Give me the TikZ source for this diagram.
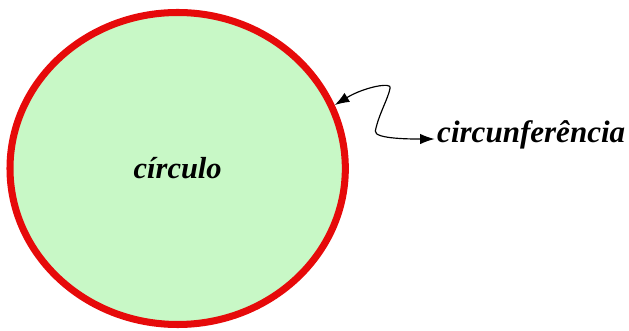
\documentclass[tikz,border=0pt]{standalone}
\usepackage{fontspec}
\setmainfont{Liberation Serif}
\usetikzlibrary{arrows.meta, shapes.geometric}
\definecolor{discgreen}{RGB}{200,248,198}
\definecolor{rimred}{RGB}{230,10,10}

\begin{document}
\begin{tikzpicture}[
  disc/.style={ellipse, draw=rimred, fill=discgreen, line width=6pt,
               minimum width=10.06cm, minimum height=9.36cm,
               font=\fontsize{26}{30}\selectfont\bfseries\itshape},
  lbl/.style={inner sep=0pt, font=\fontsize{26.5}{30}\selectfont\bfseries\itshape},
  arr/.style={{Latex[length=12.5pt,width=9pt]}-{Latex[length=12.5pt,width=9pt]}, line width=1pt}
]
  \useasboundingbox (0,0) rectangle (18.87,9.93);

  \node[disc] (circulo) at (5.33,4.875) {círculo};
  \node[lbl, anchor=base west] (circunf) at (13.11,5.64) {circunferência};

  \draw[arr] (circulo.22) .. controls +(0.9,0.55) and +(0.1,0.2) .. (11.7,7.28)
    .. controls +(-0.05,-0.3) and +(0.1,0.5) .. (11.26,6.0)
    .. controls +(-0.05,-0.25) and +(-0.6,0) .. ([xshift=-2pt,yshift=3.4pt]circunf.base west);
\end{tikzpicture}
\end{document}
